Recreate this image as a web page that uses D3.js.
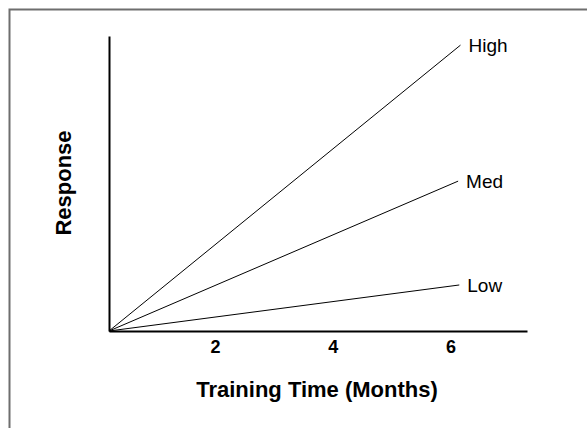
<!DOCTYPE html>
<html><head><meta charset="utf-8">
<script src="https://cdn.jsdelivr.net/npm/d3@7"></script>
<style>body{margin:0;background:#fff}svg{display:block}text{font-family:"Liberation Sans",Arial,sans-serif}</style>
</head><body>
<script>
const seriesNames = ["High", "Med", "Low"];
const startX = [0.2, 0.2, 0.2];
const startY = [0, 0, 0];
const endX = [6.17, 6.13, 6.15];
const endY = [9.69, 5.08, 1.56];
const tickValues = [2, 4, 6];
const tickLabels = ["2", "4", "6"];

const W = 587, H = 428;
const svg = d3.select("body").append("svg").attr("width", W).attr("height", H);
svg.append("rect").attr("x", 9.5).attr("y", 9.5).attr("width", 700).attr("height", 600)
  .attr("fill", "none").attr("stroke", "#6e6e6e").attr("stroke-width", 2);

const x = d3.scaleLinear().domain([0.2, 7.3]).range([109, 527]);
const y = d3.scaleLinear().domain([0, 10]).range([331, 36]);

// axes
const xAxis = d3.axisBottom(x).tickValues(tickValues).tickFormat((d, i) => tickLabels[i]).tickSize(0).tickPadding(9);
const gx = svg.append("g").attr("transform", `translate(0,${y(0)})`).call(xAxis);
gx.attr("font-size", null).attr("font-family", null);
gx.select(".domain").attr("stroke", "#000").attr("stroke-width", 2);
gx.selectAll("text").style("font-size", "18px").style("font-weight", "bold").attr("fill", "#000");

const yAxis = d3.axisLeft(y).tickValues([]).tickSize(0);
const gy = svg.append("g").attr("transform", `translate(${x(0.2)},0)`).call(yAxis);
gy.select(".domain").attr("stroke", "#000").attr("stroke-width", 2);

// lines
const line = d3.line().x(d => x(d[0])).y(d => y(d[1]));
seriesNames.forEach((name, i) => {
  svg.append("path").datum([[startX[i], startY[i]], [endX[i], endY[i]]])
    .attr("d", line).attr("fill", "none").attr("stroke", "#000").attr("stroke-width", 1);
  svg.append("text").attr("x", x(endX[i]) + 8).attr("y", y(endY[i]))
    .attr("dy", "0.35em").style("font-size", "19px").attr("fill", "#000").text(name);
});

// titles
svg.append("text").attr("x", 317).attr("y", 397).attr("text-anchor", "middle")
  .style("font-size", "22px").style("font-weight", "bold").text("Training Time (Months)");
svg.append("text").attr("transform", "translate(71,183) rotate(-90)").attr("text-anchor", "middle")
  .style("font-size", "22px").style("font-weight", "bold").text("Response");
</script>
</body></html>
